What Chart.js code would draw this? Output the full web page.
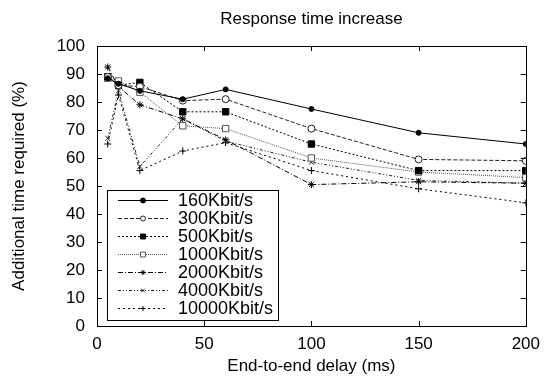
<!DOCTYPE html>
<html>
<head>
<meta charset="utf-8">
<title>Response time increase</title>
<script src="https://cdn.jsdelivr.net/npm/chart.js@4/dist/chart.umd.min.js"></script>
<style>
    html, body { margin: 0; padding: 0; background: #fff; }
    #wrap { width: 548px; height: 385px; }
</style>
</head>
<body>
<div id="wrap"><canvas id="lineChart" width="548" height="385"></canvas></div>
<script>
// Chart data
const delays = [5, 10, 20, 40, 60, 100, 150, 200];
const seriesLabels = ['160Kbit/s', '300Kbit/s', '500Kbit/s', '1000Kbit/s', '2000Kbit/s', '4000Kbit/s', '10000Kbit/s'];
const rate160 = [88.5, 86.5, 84, 81, 84.5, 77.5, 69, 65];
const rate300 = [89, 86, 85.5, 80.5, 81, 70.5, 59.5, 59];
const rate500 = [89, 86, 87, 76.5, 76.5, 65, 55.5, 55.5];
const rate1000 = [88.5, 87.5, 83.5, 71.5, 70.5, 60, 55, 53];
const rate2000 = [92.5, 85.5, 79, 74, 66.5, 50.5, 51.5, 51];
const rate4000 = [67, 84, 57, 74, 66, 58.5, 52, 51];
const rate10000 = [65, 82.5, 55.5, 62.5, 65.5, 55.5, 49, 44];
const xTicks = [0, 50, 100, 150, 200];
const yTicks = [0, 10, 20, 30, 40, 50, 60, 70, 80, 90, 100];

const FONT = "'Liberation Sans', Arial, sans-serif";

function toPoints(values) {
    return values.map((v, i) => ({ x: delays[i], y: v }));
}

// line style + marker per series
const styles = [
    { dash: [], color: '#000', point: 'circle', radius: 2.5, fill: '#000' },
    { dash: [4, 2], color: '#222', point: 'circle', radius: 3.5, fill: '#fff' },
    { dash: [2, 2], color: '#000', point: 'rect', radius: 4.5, fill: '#000' },
    { dash: [1, 1], color: '#555', point: 'rect', radius: 4.5, fill: '#fff' },
    { dash: [5, 2, 1, 2], color: '#000', point: 'star', radius: 3.5, fill: '#000' },
    { dash: [3, 2, 1, 2, 1, 2], color: '#222', point: 'crossRot', radius: 3.5, fill: '#000' },
    { dash: [2, 3], color: '#000', point: 'cross', radius: 3.5, fill: '#000' }
];
const allValues = [rate160, rate300, rate500, rate1000, rate2000, rate4000, rate10000];

const datasets = allValues.map((vals, i) => ({
    label: seriesLabels[i],
    data: toPoints(vals),
    borderColor: styles[i].color,
    borderWidth: 1,
    borderDash: styles[i].dash,
    pointStyle: styles[i].point,
    pointRadius: styles[i].radius,
    pointBackgroundColor: styles[i].fill,
    pointBorderColor: styles[i].color,
    pointBorderWidth: 1,
    fill: false,
    tension: 0
}));

// Box around plot with inward ticks on all sides (gnuplot style)
const framePlugin = {
    id: 'frame',
    afterDatasetsDraw(chart) {
        const { ctx, chartArea: a, scales } = chart;
        const len = 5;
        ctx.save();
        ctx.strokeStyle = '#000';
        ctx.lineWidth = 1;
        ctx.setLineDash([]);
        ctx.beginPath();
        xTicks.forEach(t => {
            const px = Math.round(scales.x.getPixelForValue(t)) + 0.5;
            ctx.moveTo(px, a.bottom); ctx.lineTo(px, a.bottom - len);
            ctx.moveTo(px, a.top); ctx.lineTo(px, a.top + len);
        });
        yTicks.forEach(t => {
            const py = Math.round(scales.y.getPixelForValue(t)) + 0.5;
            ctx.moveTo(a.left, py); ctx.lineTo(a.left + len, py);
            ctx.moveTo(a.right, py); ctx.lineTo(a.right - len, py);
        });
        ctx.stroke();
        ctx.strokeRect(Math.round(a.left) + 0.5, Math.round(a.top) + 0.5,
            Math.round(a.right - a.left), Math.round(a.bottom - a.top));
        ctx.restore();
    }
};

// Legend box inside the plot, lower left
const legendPlugin = {
    id: 'boxLegend',
    afterDraw(chart) {
        const { ctx, chartArea: a } = chart;
        const left = a.left + 10, top = 190, width = 171, rowH = 18;
        const height = rowH * chart.data.datasets.length + 4;
        ctx.save();
        ctx.fillStyle = '#fff';
        ctx.fillRect(left, top, width, height);
        ctx.strokeStyle = '#000';
        ctx.lineWidth = 1;
        ctx.setLineDash([]);
        ctx.strokeRect(left + 0.5, top + 0.5, width, height);
        ctx.font = '18px ' + FONT;
        ctx.textBaseline = 'middle';
        ctx.textAlign = 'left';
        chart.data.datasets.forEach((ds, i) => {
            const y = top + 10 + i * rowH + 0.5;
            ctx.strokeStyle = ds.borderColor;
            ctx.setLineDash(ds.borderDash);
            ctx.beginPath();
            ctx.moveTo(left + 11, y);
            ctx.lineTo(left + 61, y);
            ctx.stroke();
            ctx.setLineDash([]);
            ctx.fillStyle = ds.pointBackgroundColor;
            ctx.strokeStyle = ds.pointBorderColor;
            Chart.helpers.drawPoint(ctx, {
                pointStyle: ds.pointStyle,
                radius: Math.max(2.5, ds.pointRadius - 1),
                borderWidth: 1,
                rotation: 0
            }, left + 36, y);
            ctx.fillStyle = '#000';
            ctx.fillText(ds.label, left + 71, y + 1);
        });
        ctx.restore();
    }
};

document.addEventListener('DOMContentLoaded', function() {
    const lineCtx = document.getElementById('lineChart').getContext('2d');
    new Chart(lineCtx, {
        type: 'line',
        data: { datasets: datasets },
        options: {
            responsive: false,
            animation: false,
            devicePixelRatio: 1,
            layout: { padding: { left: 0, right: 21, top: 0, bottom: 0 } },
            plugins: {
                legend: { display: false },
                title: { display: false },
                tooltip: { enabled: false }
            },
            scales: {
                x: {
                    type: 'linear',
                    position: 'bottom',
                    min: 0,
                    max: 200,
                    afterBuildTicks: s => { s.ticks = xTicks.map(v => ({ value: v })); },
                    afterFit: s => { s.height = 59; },
                    grid: { display: false, drawTicks: false },
                    border: { display: false },
                    ticks: { color: '#000', padding: 8, font: { family: FONT, size: 17 } },
                    title: {
                        display: true,
                        text: 'End-to-end delay (ms)',
                        color: '#000',
                        padding: { top: 0, bottom: 8 },
                        font: { family: FONT, size: 17 }
                    }
                },
                xTop: {
                    type: 'linear',
                    position: 'top',
                    min: 0,
                    max: 200,
                    afterFit: s => { s.height = 46; },
                    grid: { display: false, drawTicks: false },
                    border: { display: false },
                    ticks: { display: false },
                    title: {
                        display: true,
                        text: 'Response time increase',
                        color: '#000',
                        padding: { top: 9, bottom: 0 },
                        font: { family: FONT, size: 17 }
                    }
                },
                y: {
                    type: 'linear',
                    min: 0,
                    max: 100,
                    afterBuildTicks: s => { s.ticks = yTicks.map(v => ({ value: v })); },
                    afterFit: s => { s.width = 97; },
                    grid: { display: false, drawTicks: false },
                    border: { display: false },
                    ticks: { color: '#000', padding: 12, font: { family: FONT, size: 17 } },
                    title: {
                        display: true,
                        text: 'Additional time required (%)',
                        color: '#000',
                        padding: { top: 9, bottom: 0 },
                        font: { family: FONT, size: 17 }
                    }
                }
            }
        },
        plugins: [framePlugin, legendPlugin]
    });
});
</script>
</body>
</html>
